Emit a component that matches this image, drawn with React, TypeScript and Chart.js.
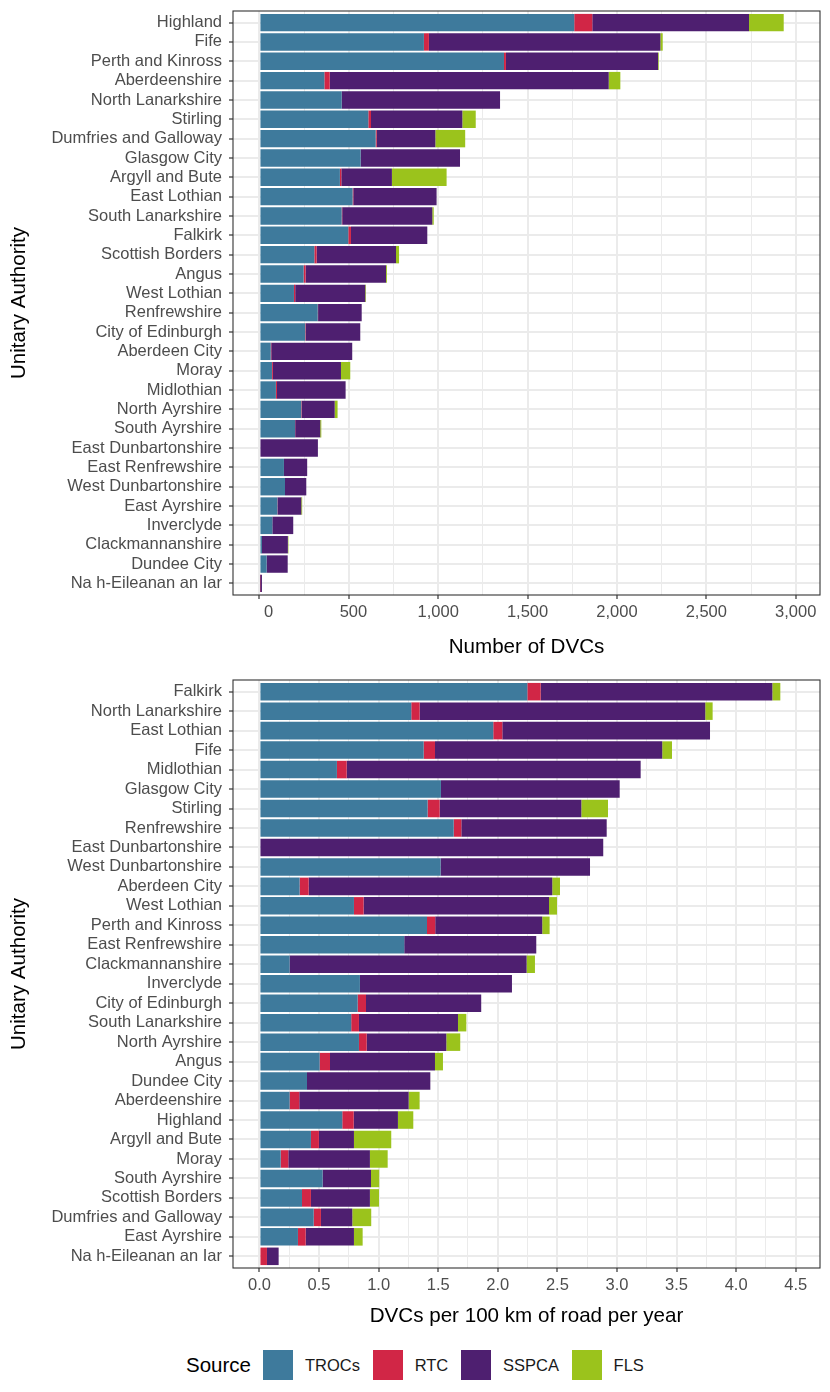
import React, { useEffect, useRef } from "react";
import { Chart, registerables } from "chart.js";

Chart.register(...registerables);

const FONT_FAMILY = '"Liberation Sans", Arial, Helvetica, sans-serif';
Chart.defaults.font.family = FONT_FAMILY;

// Sources, in stacking order
const sources = ["TROCs", "RTC", "SSPCA", "FLS"];
const sourceColours = ["#3E7A9C", "#D12646", "#4E1F70", "#9BC31C"];

// Number of DVCs per authority (ordered by total)
const countAuthorities = [
  "Highland", "Fife", "Perth and Kinross", "Aberdeenshire", "North Lanarkshire",
  "Stirling", "Dumfries and Galloway", "Glasgow City", "Argyll and Bute", "East Lothian",
  "South Lanarkshire", "Falkirk", "Scottish Borders", "Angus", "West Lothian",
  "Renfrewshire", "City of Edinburgh", "Aberdeen City", "Moray", "Midlothian",
  "North Ayrshire", "South Ayrshire", "East Dunbartonshire", "East Renfrewshire", "West Dunbartonshire",
  "East Ayrshire", "Inverclyde", "Clackmannanshire", "Dundee City", "Na h-Eileanan an Iar",
];
const countTROCs = [1761, 920, 1368, 363, 460, 609, 650, 566, 450, 521, 460, 497, 307, 247, 193, 326, 256, 63, 70, 92, 234, 199, 0, 137, 143, 100, 72, 14, 40, 0];
const countRTC = [101, 28, 11, 30, 0, 15, 6, 0, 8, 4, 3, 15, 13, 11, 7, 2, 3, 3, 5, 6, 3, 1, 0, 0, 0, 1, 0, 0, 0, 4];
const countSSPCA = [877, 1295, 851, 1561, 886, 511, 328, 556, 283, 466, 504, 427, 444, 450, 392, 244, 305, 453, 381, 384, 184, 140, 327, 130, 119, 133, 117, 145, 118, 10];
const countFLS = [194, 13, 4, 65, 0, 75, 167, 0, 306, 0, 8, 0, 17, 5, 4, 0, 0, 0, 52, 0, 16, 6, 0, 0, 0, 5, 0, 3, 0, 0];

const countTickValues = [0, 500, 1000, 1500, 2000, 2500, 3000];
const countTickLabels = ["0", "500", "1,000", "1,500", "2,000", "2,500", "3,000"];
const countMinorValues = [250, 750, 1250, 1750, 2250, 2750];
const countAxisLimits = [-148, 3136];

// DVCs per 100 km of road per year (ordered by total)
const rateAuthorities = [
  "Falkirk", "North Lanarkshire", "East Lothian", "Fife", "Midlothian",
  "Glasgow City", "Stirling", "Renfrewshire", "East Dunbartonshire", "West Dunbartonshire",
  "Aberdeen City", "West Lothian", "Perth and Kinross", "East Renfrewshire", "Clackmannanshire",
  "Inverclyde", "City of Edinburgh", "South Lanarkshire", "North Ayrshire", "Angus",
  "Dundee City", "Aberdeenshire", "Highland", "Argyll and Bute", "Moray",
  "South Ayrshire", "Scottish Borders", "Dumfries and Galloway", "East Ayrshire", "Na h-Eileanan an Iar",
];
const rateTROCs = [2.248, 1.274, 1.962, 1.378, 0.65, 1.523, 1.411, 1.63, 0, 1.52, 0.337, 0.793, 1.406, 1.215, 0.253, 0.843, 0.824, 0.77, 0.835, 0.505, 0.399, 0.253, 0.695, 0.432, 0.178, 0.53, 0.357, 0.455, 0.323, 0];
const rateRTC = [0.112, 0.07, 0.076, 0.095, 0.082, 0, 0.101, 0.064, 0, 0, 0.076, 0.081, 0.069, 0, 0, 0, 0.07, 0.065, 0.065, 0.087, 0, 0.081, 0.096, 0.067, 0.064, 0, 0.075, 0.061, 0.065, 0.063];
const rateSSPCA = [1.944, 2.397, 1.743, 1.907, 2.467, 1.5, 1.189, 1.22, 2.885, 1.254, 2.044, 1.556, 0.898, 1.108, 1.989, 1.276, 0.967, 0.831, 0.668, 0.881, 1.035, 0.918, 0.371, 0.294, 0.685, 0.406, 0.495, 0.263, 0.405, 0.098];
const rateFLS = [0.067, 0.062, 0, 0.082, 0, 0, 0.224, 0, 0, 0, 0.065, 0.067, 0.062, 0, 0.07, 0, 0, 0.07, 0.117, 0.067, 0, 0.092, 0.129, 0.313, 0.149, 0.069, 0.076, 0.159, 0.073, 0];

const rateTickValues = [0, 0.5, 1, 1.5, 2, 2.5, 3, 3.5, 4, 4.5];
const rateTickLabels = ["0.0", "0.5", "1.0", "1.5", "2.0", "2.5", "3.0", "3.5", "4.0", "4.5"];
const rateMinorValues = [0.25, 0.75, 1.25, 1.75, 2.25, 2.75, 3.25, 3.75, 4.25];
const rateAxisLimits = [-0.222, 4.704];

type PanelSpec = {
  categories: string[];
  values: number[][];
  tickValues: number[];
  tickLabels: string[];
  minorValues: number[];
  limits: number[];
  xTitle: string;
  height: number;
  padTop: number;
  axisHeight: number;
  titlePad: number;
};

const countPanel: PanelSpec = {
  categories: countAuthorities,
  values: [countTROCs, countRTC, countSSPCA, countFLS],
  tickValues: countTickValues,
  tickLabels: countTickLabels,
  minorValues: countMinorValues,
  limits: countAxisLimits,
  xTitle: "Number of DVCs",
  height: 668,
  padTop: 11,
  axisHeight: 73,
  titlePad: 8.6,
};

const ratePanel: PanelSpec = {
  categories: rateAuthorities,
  values: [rateTROCs, rateRTC, rateSSPCA, rateFLS],
  tickValues: rateTickValues,
  tickLabels: rateTickLabels,
  minorValues: rateMinorValues,
  limits: rateAxisLimits,
  xTitle: "DVCs per 100 km of road per year",
  height: 667,
  padTop: 12,
  axisHeight: 67,
  titlePad: 6.6,
};

const GRID = "#EBEBEB";
const DARK = "#333333";
const TICK_TEXT = "#4D4D4D";

// Full rectangle round the plotting area, drawn over the bars
const panelBorder = {
  id: "panelBorder",
  afterDraw(chart: any) {
    const { ctx, chartArea: a } = chart;
    ctx.save();
    ctx.strokeStyle = DARK;
    ctx.lineWidth = 1.1;
    ctx.strokeRect(a.left, a.top, a.right - a.left, a.bottom - a.top);
    ctx.restore();
  },
};

function buildConfig(p: PanelSpec): any {
  const n = p.categories.length;
  const indices = p.categories.map((_, i) => i);
  const allTicks = [...p.tickValues, ...p.minorValues].sort((a, b) => a - b);
  const isMajor = (v: number) => p.tickValues.indexOf(v) >= 0;
  // labels padded to a common width, as R's format() does
  const width = Math.max(...p.tickLabels.map((l) => l.length));

  const datasets = sources.map((name, s) => ({
    label: name,
    data: p.values[s].map((v, i) => ({ x: v, y: i })),
    backgroundColor: sourceColours[s],
    borderWidth: 0,
    barPercentage: 0.9,
    categoryPercentage: 1,
  }));

  return {
    type: "bar",
    data: { datasets },
    options: {
      indexAxis: "y",
      animation: false,
      responsive: false,
      events: [],
      layout: { padding: { top: p.padTop, right: 10, left: 0, bottom: 0 } },
      plugins: { legend: { display: false }, tooltip: { enabled: false } },
      scales: {
        x: {
          type: "linear",
          stacked: true,
          min: p.limits[0],
          max: p.limits[1],
          afterBuildTicks: (scale: any) => {
            scale.ticks = allTicks.map((v) => ({ value: v }));
          },
          afterFit: (scale: any) => {
            scale.height = p.axisHeight;
            scale.paddingLeft = 0;
            scale.paddingRight = 0;
          },
          border: { display: false },
          grid: {
            color: GRID,
            lineWidth: (ctx: any) => (ctx.tick && isMajor(ctx.tick.value) ? 2 : 1),
            tickColor: (ctx: any) => (ctx.tick && isMajor(ctx.tick.value) ? DARK : "rgba(0,0,0,0)"),
            tickWidth: 1.2,
            tickLength: 4,
          },
          ticks: {
            autoSkip: false,
            maxRotation: 0,
            padding: 4,
            color: TICK_TEXT,
            font: { size: 16.5 },
            callback: (v: number) => {
              const k = p.tickValues.indexOf(v);
              return k >= 0 ? p.tickLabels[k].padStart(width, " ") : "";
            },
          },
          title: {
            display: true,
            text: p.xTitle,
            color: "#000000",
            font: { size: 20.6 },
            padding: { top: 0, bottom: p.titlePad },
          },
        },
        y: {
          type: "linear",
          stacked: true,
          reverse: true,
          offset: false,
          min: -0.6,
          max: n - 0.4,
          afterBuildTicks: (scale: any) => {
            scale.ticks = indices.map((v) => ({ value: v }));
          },
          afterFit: (scale: any) => {
            scale.width = 233;
            scale.paddingTop = 0;
            scale.paddingBottom = 0;
          },
          border: { display: false },
          grid: {
            offset: false,
            color: GRID,
            lineWidth: 2,
            tickColor: DARK,
            tickWidth: 1.2,
            tickLength: 4,
          },
          ticks: {
            autoSkip: false,
            padding: 7,
            color: TICK_TEXT,
            font: { size: 16.5 },
            callback: (v: number) => p.categories[v] ?? "",
          },
          title: {
            display: true,
            text: "Unitary Authority",
            color: "#000000",
            font: { size: 20.6 },
            padding: { top: 7, bottom: 0 },
          },
        },
      },
    },
    plugins: [panelBorder],
  };
}

function Panel({ spec }: { spec: PanelSpec }) {
  const ref = useRef<HTMLCanvasElement | null>(null);
  useEffect(() => {
    if (!ref.current) return;
    const chart = new Chart(ref.current, buildConfig(spec));
    return () => chart.destroy();
  }, [spec]);
  return (
    <canvas
      ref={ref}
      width={830}
      height={spec.height}
      style={{ display: "block", width: 830, height: spec.height }}
    />
  );
}

function Legend() {
  return (
    <div
      style={{
        display: "flex",
        alignItems: "center",
        height: 57,
        paddingLeft: 186,
        paddingTop: 3,
        boxSizing: "border-box",
        fontFamily: FONT_FAMILY,
      }}
    >
      <span style={{ fontSize: 20.5, color: "#000", marginRight: 12, lineHeight: 1 }}>Source</span>
      {sources.map((name, i) => (
        <React.Fragment key={name}>
          <span
            style={{
              display: "inline-block",
              width: 30,
              height: 30,
              background: sourceColours[i],
              marginRight: 12,
            }}
          />
          <span style={{ fontSize: 16.5, color: "#1A1A1A", marginRight: 12.7, lineHeight: 1 }}>{name}</span>
        </React.Fragment>
      ))}
    </div>
  );
}

export default function App() {
  return (
    <div
      style={{
        position: "absolute",
        left: 0,
        top: 0,
        width: 830,
        height: 1392,
        background: "#ffffff",
        overflow: "hidden",
      }}
    >
      <Panel spec={countPanel} />
      <Panel spec={ratePanel} />
      <Legend />
    </div>
  );
}
